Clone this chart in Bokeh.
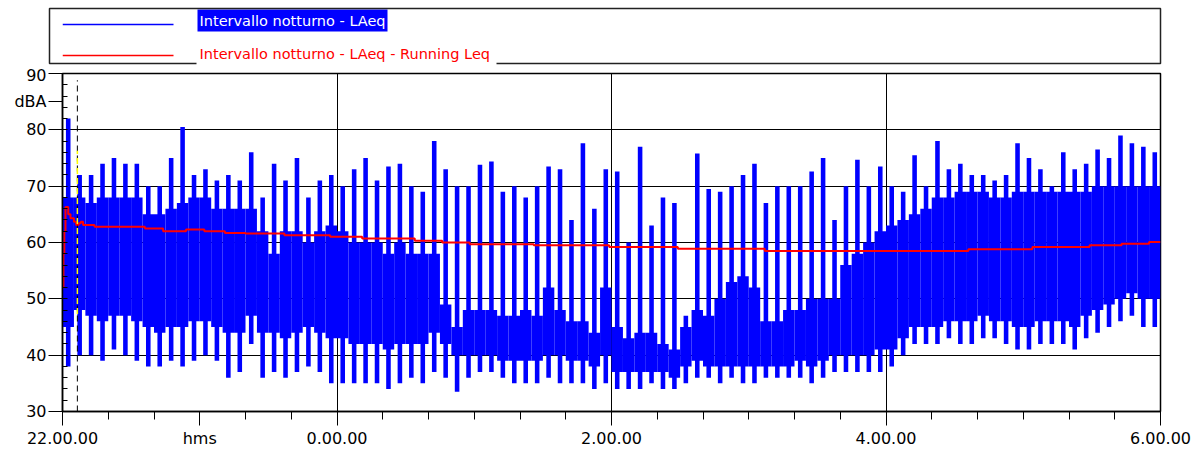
import numpy as np
from bokeh.plotting import figure
from bokeh.models import Range1d, FixedTicker
from bokeh.layouts import column
from bokeh.embed import file_html
from bokeh.resources import INLINE
from bokeh.core.properties import value

# ---------------- data ----------------
series_names = ["Intervallo notturno - LAeq", "Intervallo notturno - LAeq - Running Leq"]
y_unit = "dBA"
x_unit = "hms"
tick_minutes = [0, 120, 240, 360, 480]          # minutes after 22:00
tick_labels = ["22.00.00", "0.00.00", "2.00.00", "4.00.00", "6.00.00"]
y_ticks = [30, 40, 50, 60, 70, 80, 90]
y_unit_at = 85
x_unit_at = 60
bin_minutes = 5                                   # LAeq envelope, 5-minute bins

# LAeq: highest peak, top of dense band, bottom of dense band, lowest value, per bin
laeq_hi = [82, 72, 72, 74, 75, 74, 74, 70, 70, 75, 80.5, 72, 73, 71, 72, 71,
           76, 68, 74, 71, 75, 68, 71, 72, 70, 73, 75, 71, 73.5, 74, 70, 69,
           78, 73, 70, 70, 73.8, 74.4, 69, 70, 68, 70, 73.5, 73, 64, 77.6, 66, 73,
           72.6, 60, 77, 63, 68, 67, 47, 75.8, 69.5, 69, 70, 72, 74, 67, 70, 70,
           70, 72.6, 75, 64, 70, 74.7, 70, 73.5, 70, 69, 75.5, 70, 78, 73, 74, 72,
           72, 71, 72, 77.6, 75, 73, 70, 76, 73, 74, 76.5, 75, 79, 77.6, 77, 76]
laeq_band_hi = [68, 68, 67, 68, 68, 68, 68, 65, 65, 66, 67, 68, 68, 66, 66, 66,
                66, 62, 58, 62, 62, 60, 62, 63, 62, 60, 60, 60, 58, 60, 58, 58,
                58, 49, 45, 48, 48, 48, 47, 47, 48, 47, 52, 48, 46, 46, 44, 52,
                45, 43, 44, 44, 42, 41, 45, 48, 47, 50, 53, 54, 52, 46, 46, 48,
                48, 50, 50, 50, 56, 58, 60, 62, 63, 64, 65, 66, 68, 68, 69, 69,
                69, 68, 68, 69, 69, 69, 69, 69, 69, 69, 70, 70, 70, 70, 70, 70]
laeq_band_lo = [45, 48, 47, 46, 47, 47, 46, 45, 44, 45, 45, 46, 46, 45, 44, 44,
                47, 44, 44, 43, 44, 45, 44, 43, 43, 42, 42, 42, 41, 42, 42, 42,
                44, 42, 40, 40, 40, 40, 39, 39, 39, 39, 40, 40, 39, 39, 38, 40,
                37, 37, 37, 37, 37, 36, 38, 39, 38, 38, 38, 38, 38, 38, 38, 38,
                39, 38, 39, 40, 40, 40, 40, 41, 41, 43, 45, 45, 45, 46, 46, 46,
                47, 46, 46, 45, 45, 46, 46, 46, 45, 47, 48, 49, 50, 51, 50, 50]
laeq_lo = [38, 40, 40, 39, 41, 40, 39, 38, 38, 39, 38, 39, 40, 39, 36, 37,
           42, 36, 37, 36, 37, 38, 37, 35, 35, 35, 35, 35, 34, 35, 36, 35,
           37, 36, 33.5, 36, 37, 37, 36, 35, 35, 35, 36, 35, 35, 35, 34, 35,
           34, 34, 34, 35, 34, 34, 35, 36, 36, 35, 36, 35, 35, 36, 36, 36,
           36, 35, 36, 37, 37, 37, 37, 37, 38, 40, 42, 42, 42, 43, 42, 42,
           43, 43, 42, 41, 41, 42, 42, 42, 41, 43, 44, 45, 46, 47, 45, 45]

# Running Leq: minutes after 22:00 where the value changes, and the value
leq_minutes = [0, 0.4, 0.8, 1.3, 2.5, 3.5, 5, 6, 7, 8, 9, 14, 36, 44, 54, 62, 71, 80,
               97, 117, 131, 154, 166, 178, 206, 239, 269, 307, 396, 424, 449, 463, 475, 480]
leq_values = [52, 58, 62, 66.3, 65, 64.3, 63.7, 63.1, 63.4, 63.7, 63.1, 62.8, 62.5, 62.0,
              62.3, 62.0, 61.7, 61.6, 61.3, 61.0, 60.7, 60.3, 60.0, 59.7, 59.5, 59.2,
              58.9, 58.5, 58.8, 59.2, 59.5, 59.8, 60.1, 60.1]

cursor_minute = 6.5
cursor_span = [30, 88.8]
cursor_mark = [47.3, 76.3]

# ---------------- styles / layout ----------------
BLUE = "#0000ff"
RED = "#ff0000"
FONT = "DejaVu Sans"
W, H_LEG, H_MAIN = 1203, 65, 385
B_LEFT, B_RIGHT = 62, 43

bin_centers = np.arange(len(laeq_hi)) * bin_minutes + bin_minutes / 2

# ---------------- legend panel (pixel coordinates, frame aligned with chart) ----------------
lf = figure(width=W, height=H_LEG, x_range=Range1d(B_LEFT, W - B_RIGHT), y_range=Range1d(H_LEG, 0),
            min_border_left=B_LEFT, min_border_right=B_RIGHT, min_border_top=0, min_border_bottom=0,
            output_backend="svg", toolbar_location=None, x_axis_type=None, y_axis_type=None)
lf.outline_line_color = None
lf.background_fill_color = "white"
lf.border_fill_color = "white"
box = lf.quad(left=[49], right=[1160], top=[8], bottom=[63], fill_color=None,
              line_color="#222222", line_width=1.5)
box.level = "overlay"
lf.segment(x0=[62, 62], x1=[173, 173], y0=[24, 55], y1=[24, 55],
           line_color=[BLUE, RED], line_width=1.5)
lf.quad(left=[197], right=[387], top=[9], bottom=[31], fill_color=BLUE, line_color=None)
cover = lf.quad(left=[196], right=[496], top=[44], bottom=[65], fill_color="white", line_color=None)
cover.level = "overlay"
txt = lf.text(x=[199, 199], y=[20, 53], text=series_names, text_color=["white", RED],
              text_font=value(FONT), text_font_size="14.5px", text_baseline="middle")
txt.level = "overlay"

# ---------------- main chart ----------------
p = figure(width=W, height=H_MAIN, x_range=Range1d(0, 480), y_range=Range1d(30, 90),
           output_backend="svg", toolbar_location=None,
           min_border_left=B_LEFT, min_border_right=B_RIGHT, min_border_top=8, min_border_bottom=39)
p.background_fill_color = "white"
p.border_fill_color = "white"
p.outline_line_color = "black"
p.outline_line_width = 1.5

p.vbar(x=bin_centers, width=bin_minutes, bottom=laeq_band_lo, top=laeq_band_hi,
       fill_color=BLUE, line_color=None)
p.vbar(x=bin_centers, width=bin_minutes * 0.4, bottom=laeq_lo, top=laeq_hi,
       fill_color=BLUE, line_color=None)
p.step(x=leq_minutes, y=leq_values, mode="after", line_color=RED, line_width=2)

p.segment(x0=[cursor_minute], x1=[cursor_minute], y0=[cursor_span[0]], y1=[cursor_span[1]],
          line_color="black", line_width=1, line_dash="6 4")
p.segment(x0=[cursor_minute], x1=[cursor_minute], y0=[cursor_mark[0]], y1=[cursor_mark[1]],
          line_color="#ffff00", line_width=1.5, line_dash="6 4")

# axes (unit names sit among the tick labels, as in the original)
x_major = sorted(tick_minutes + [x_unit_at])
x_over = {m: l for m, l in zip(tick_minutes, tick_labels)}
x_over[x_unit_at] = x_unit
p.xaxis.ticker = FixedTicker(ticks=x_major, minor_ticks=list(range(0, 481, 20)))
p.xaxis.major_label_overrides = x_over
y_major = sorted(y_ticks + [y_unit_at])
y_over = {v: str(v) for v in y_ticks}
y_over[y_unit_at] = y_unit
p.yaxis.ticker = FixedTicker(ticks=y_major, minor_ticks=list(range(30, 91, 2)))
p.yaxis.major_label_overrides = y_over
for ax in (p.xaxis[0], p.yaxis[0]):
    ax.axis_line_color = "black"
    ax.axis_line_width = 1.5
    ax.major_tick_line_color = "black"
    ax.minor_tick_line_color = "black"
    ax.major_tick_in = 0
    ax.major_tick_out = 14
    ax.major_label_text_font = FONT
    ax.major_label_text_font_size = "16px"
    ax.major_label_text_color = "black"
p.xaxis.minor_tick_in = 0
p.xaxis.minor_tick_out = 8
p.xaxis.major_label_standoff = 3
p.yaxis.minor_tick_in = 5
p.yaxis.minor_tick_out = 0
p.yaxis.major_label_standoff = 2

p.xgrid.ticker = FixedTicker(ticks=tick_minutes[1:-1])
p.ygrid.ticker = FixedTicker(ticks=y_ticks[1:-1])
for g in (p.xgrid[0], p.ygrid[0]):
    g.grid_line_color = "black"
    g.grid_line_alpha = 1.0
    g.grid_line_width = 1

layout = column(lf, p)
open("out.html", "w").write(file_html(layout, INLINE))
